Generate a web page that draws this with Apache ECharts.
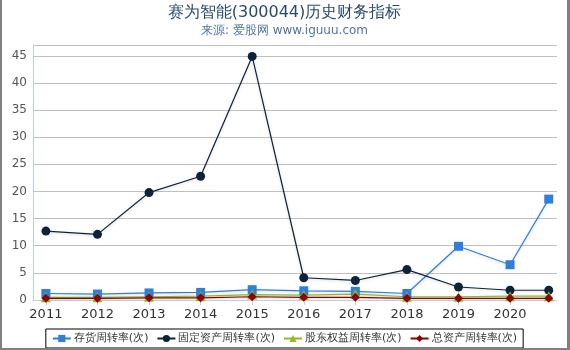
<!DOCTYPE html>
<html>
<head>
<meta charset="utf-8">
<script src="https://cdn.jsdelivr.net/npm/echarts@6/dist/echarts.min.js"></script>
<style>
  html, body { margin: 0; padding: 0; background: #fff; }
  #wrap { width: 570px; height: 350px; box-sizing: border-box;
          border-left: 2px solid #808080; border-right: 3px solid #808080; border-bottom: 2px solid #808080; }
  #chart { width: 565px; height: 348px; }
</style>
</head>
<body>
<div id="wrap"><div id="chart"></div></div>
<script>
// x positions: year ends, last one is Q3 2020
var years = [2011, 2012, 2013, 2014, 2015, 2016, 2017, 2018, 2019, 2020, 2020.75];
var yearLabels = [2011, 2012, 2013, 2014, 2015, 2016, 2017, 2018, 2019, 2020];

var inventory = [1.2, 1.1, 1.3, 1.4, 1.9, 1.7, 1.6, 1.2, 9.9, 6.5, 18.6];
var fixedAsset = [12.7, 12.1, 19.8, 22.8, 44.9, 4.1, 3.6, 5.6, 2.4, 1.8, 1.8];
var equity = [0.5, 0.5, 0.6, 0.7, 1.0, 0.9, 1.1, 0.6, 0.6, 0.7, 0.7];
var totalAsset = [0.3, 0.3, 0.4, 0.4, 0.6, 0.5, 0.5, 0.3, 0.3, 0.3, 0.3];

var names = ['存货周转率(次)', '固定资产周转率(次)', '股东权益周转率(次)', '总资产周转率(次)'];
var colors = ['#2f7ed8', '#0d233a', '#8bbc21', '#910000'];
var symbols = ['rect', 'circle', 'triangle', 'diamond'];
var values = [inventory, fixedAsset, equity, totalAsset];

function pairs(arr) {
    return arr.map(function (v, i) { return [years[i], v]; });
}

var chartDom = document.getElementById('chart');
var myChart = echarts.init(chartDom);
var option;

var series = [];
for (var s = 0; s < 4; s++) {
    series.push({
        name: names[s],
        type: 'line',
        data: pairs(values[s]),
        symbol: symbols[s],
        symbolSize: s == 2 ? 10 : 9,
        color: colors[s],
        lineStyle: {
            width: 1.2,
            shadowColor: 'rgba(0,0,0,0.18)',
            shadowBlur: 3,
            shadowOffsetY: 1
        },
        itemStyle: { color: colors[s] },
        animation: false
    });
}

option = {
    title: {
        text: '赛为智能(300044)历史财务指标',
        subtext: '来源: 爱股网 www.iguuu.com',
        left: 'center',
        top: 0,
        itemGap: 4,
        textStyle: { fontSize: 16, fontWeight: 'normal', color: '#274b6d', fontFamily: 'DejaVu Sans' },
        subtextStyle: { fontSize: 12, color: '#4d759e', fontFamily: 'DejaVu Sans' }
    },
    grid: { left: 31, right: 10, top: 45, bottom: 48 },
    legend: {
        bottom: 0,
        left: 'center',
        itemGap: 8,
        itemWidth: 18,
        itemHeight: 9,
        padding: [4, 6],
        borderColor: '#000',
        borderWidth: 1,
        textStyle: { fontSize: 11, color: '#333', fontFamily: 'DejaVu Sans', padding: [0, 0, 0, -2] },
        data: names
    },
    xAxis: {
        type: 'value',
        min: 2010.75,
        max: 2020.91,
        splitLine: { show: false },
        axisLine: { lineStyle: { color: '#c0d0e0' } },
        axisTick: { show: true, length: 5, lineStyle: { color: '#c0d0e0' }, customValues: yearLabels },
        axisLabel: { customValues: yearLabels, fontSize: 13, color: '#333', fontFamily: 'DejaVu Sans',
                     formatter: function (v) { return String(v); } }
    },
    yAxis: {
        type: 'value',
        min: 0,
        max: 47,
        interval: 5,
        axisLine: { show: true, lineStyle: { color: '#c0d0e0' } },
        axisTick: { show: false },
        splitLine: { lineStyle: { color: '#c0c0c0' } },
        axisLabel: { fontSize: 12, color: '#555', fontFamily: 'DejaVu Sans', margin: 6,
                     showMaxLabel: false }
    },
    series: series
};

option && myChart.setOption(option);
</script>
</body>
</html>
